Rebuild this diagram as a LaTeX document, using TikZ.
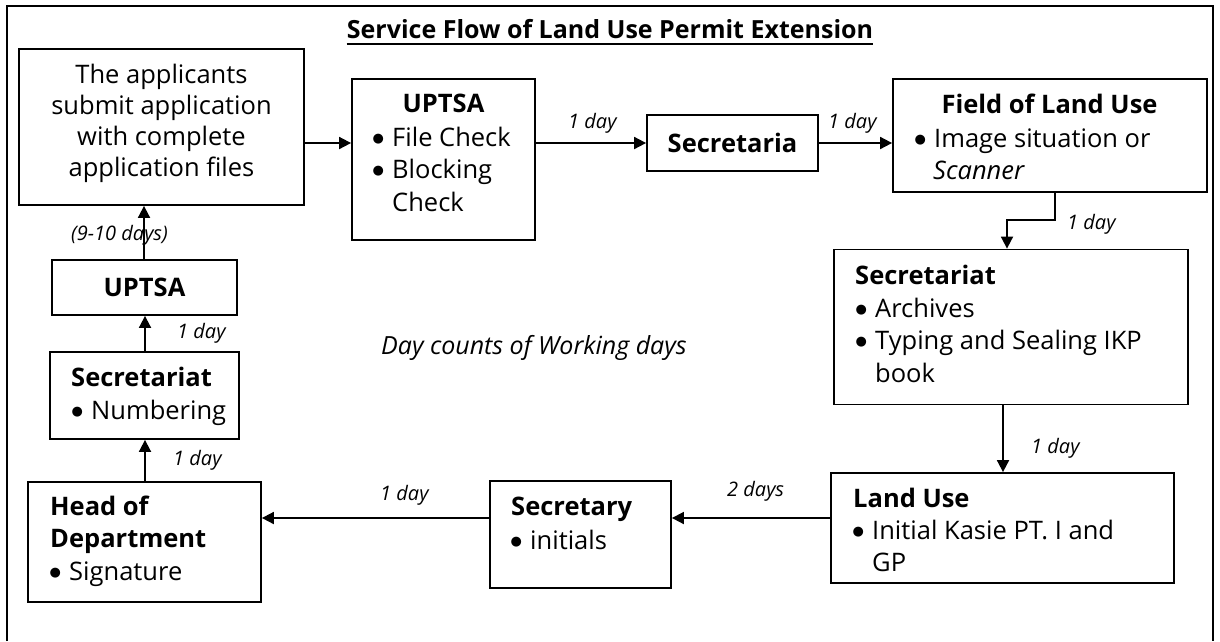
\documentclass[tikz,border=0pt]{standalone}
\usepackage{fontspec}
\setmainfont{Open Sans}
\newfontfamily\dotfont{DejaVu Sans}
\usetikzlibrary{arrows.meta}
\tikzset{
  box/.style={draw, line width=1.8pt, inner sep=0pt},
  conn/.style={line width=1.8pt, -{Triangle[length=12pt,width=12pt]}},
  txt/.style={font=\fontsize{25.5}{30}\selectfont, inner sep=0pt, anchor=base west},
  ctxt/.style={txt, anchor=base},
  hd/.style={txt, font=\fontsize{25.5}{30}\selectfont\bfseries},
  chd/.style={hd, anchor=base},
  lbl/.style={font=\fontsize{20}{23}\selectfont\itshape, inner sep=0pt, anchor=base west},
}
% list bullet: round dot centred 14pt before the item text
\newcommand{\bitem}{\makebox[28pt][c]{\raisebox{4pt}{\dotfont\fontsize{13}{13}\selectfont ●}}}
\begin{document}
\begin{tikzpicture}[x=1pt,y=-1pt]
\useasboundingbox (0,0) rectangle (1220,641);
% outer frame, open at the bottom
\draw[line width=1.6pt] (7,641) -- (7,6) -- (1213,6) -- (1213,641);

\node[inner sep=0pt, anchor=base, font=\fontsize{25}{30}\selectfont\bfseries] (title) at (610,38) {Service Flow of Land Use Permit Extension};
\draw[line width=1.8pt] (title.west |- 0,44) -- (title.east |- 0,44);

% boxes
\node[box, minimum width=285pt, minimum height=156pt] (app) at (161.5,127) {};
\node[box, minimum width=183pt, minimum height=161pt] (up1) at (443.5,159.5) {};
\node[box, minimum width=171pt, minimum height=56pt] (sec) at (732.5,143) {};
\node[box, minimum width=314pt, minimum height=113pt] (field) at (1050,135.5) {};
\node[box, minimum width=354pt, minimum height=155pt] (arch) at (1011,327) {};
\node[box, minimum width=343pt, minimum height=110pt] (land) at (1002.5,528) {};
\node[box, minimum width=181pt, minimum height=107pt] (secy) at (580.5,534.5) {};
\node[box, minimum width=233pt, minimum height=120pt] (head) at (144.5,542) {};
\node[box, minimum width=189pt, minimum height=87pt] (num) at (144.5,395.5) {};
\node[box, minimum width=185pt, minimum height=55pt] (up2) at (144.5,287.5) {};

% applicant box
\node[ctxt] (a1) at (161.5,83) {The applicants};
\node[ctxt] (a2) at (161.5,114) {submit application};
\node[ctxt] (a3) at (161.5,145) {with complete};
\node[ctxt] (a4) at (161.5,176) {application files};

% UPTSA (top)
\node[chd] (u1) at (443.5,112) {UPTSA};
\node[txt] (u2) at (364,146) {\bitem File Check};
\node[txt] (u3) at (364,178) {\bitem Blocking};
\node[txt] (u4) at (392,211) {Check};

% Secretaria
\node[chd] (s1) at (732.5,152) {Secretaria};

% Field of Land Use
\node[chd] (f1) at (1049.5,113) {Field of Land Use};
\node[txt] (f2) at (906,147) {\bitem Image situation or};
\node[txt, font=\fontsize{25.5}{30}\selectfont\itshape] (f3) at (933,179) {Scanner};

% Secretariat (archives)
\node[hd] (r1) at (855,284) {Secretariat};
\node[txt] (r2) at (847,317) {\bitem Archives};
\node[txt] (r3) at (847,349) {\bitem Typing and Sealing IKP};
\node[txt] (r4) at (875,382) {book};

% Land Use
\node[hd] (l1) at (853,507) {Land Use};
\node[txt] (l2) at (844,539) {\bitem Initial Kasie PT. I and};
\node[txt] (l3) at (872,571) {GP};

% Secretary
\node[hd] (y1) at (511,515) {Secretary};
\node[txt] (y2) at (502,549) {\bitem initials};

% Head of Department
\node[hd] (h1) at (50,515) {Head of};
\node[hd] (h2) at (50,547) {Department};
\node[txt] (h3) at (41,580) {\bitem Signature};

% Secretariat (numbering)
\node[hd] (n1) at (71,386) {Secretariat};
\node[txt] (n2) at (63,419) {\bitem Numbering};

% UPTSA (bottom)
\node[chd] (v1) at (144.5,296) {UPTSA};

\node[txt, font=\fontsize{25}{30}\selectfont\itshape] (note) at (381,354) {Day counts of Working days};

% connectors
\draw[conn] (app.east |- 0,143) -- (up1.west |- 0,143);
\draw[conn] (up1.east |- 0,143) -- (sec.west);
\draw[conn] (sec.east) -- (field.west |- 0,143);
\coordinate (k1) at (1055,220);
\coordinate (k2) at (1007,220);
\draw[conn] (field.south -| k1) -- (k1) -- (k2) -- (arch.north -| k2);
\draw[conn] (arch.south -| 1003,0) -- (land.north -| 1003,0);
\draw[conn] (land.west |- 0,518) -- (secy.east |- 0,518);
\draw[conn] (secy.west |- 0,518) -- (head.east |- 0,518);
\draw[conn] (head.north -| 145,0) -- (num.south -| 145,0);
\draw[conn] (num.north -| 145,0) -- (up2.south -| 145,0);
\draw[conn] (up2.north -| 144,0) -- (app.south -| 144,0);

% day labels
\node[lbl] (d1) at (568,128) {1 day};
\node[lbl] (d2) at (828,128) {1 day};
\node[lbl] (d3) at (1067,229) {1 day};
\node[lbl] (d4) at (1031,453) {1 day};
\node[lbl] (d5) at (727,496) {2 days};
\node[lbl] (d6) at (380,500) {1 day};
\node[lbl] (d7) at (173,465) {1 day};
\node[lbl] (d8) at (177,338) {1 day};
\node[lbl] (d9) at (71,240) {(9-10 days)};
\end{tikzpicture}
\end{document}
